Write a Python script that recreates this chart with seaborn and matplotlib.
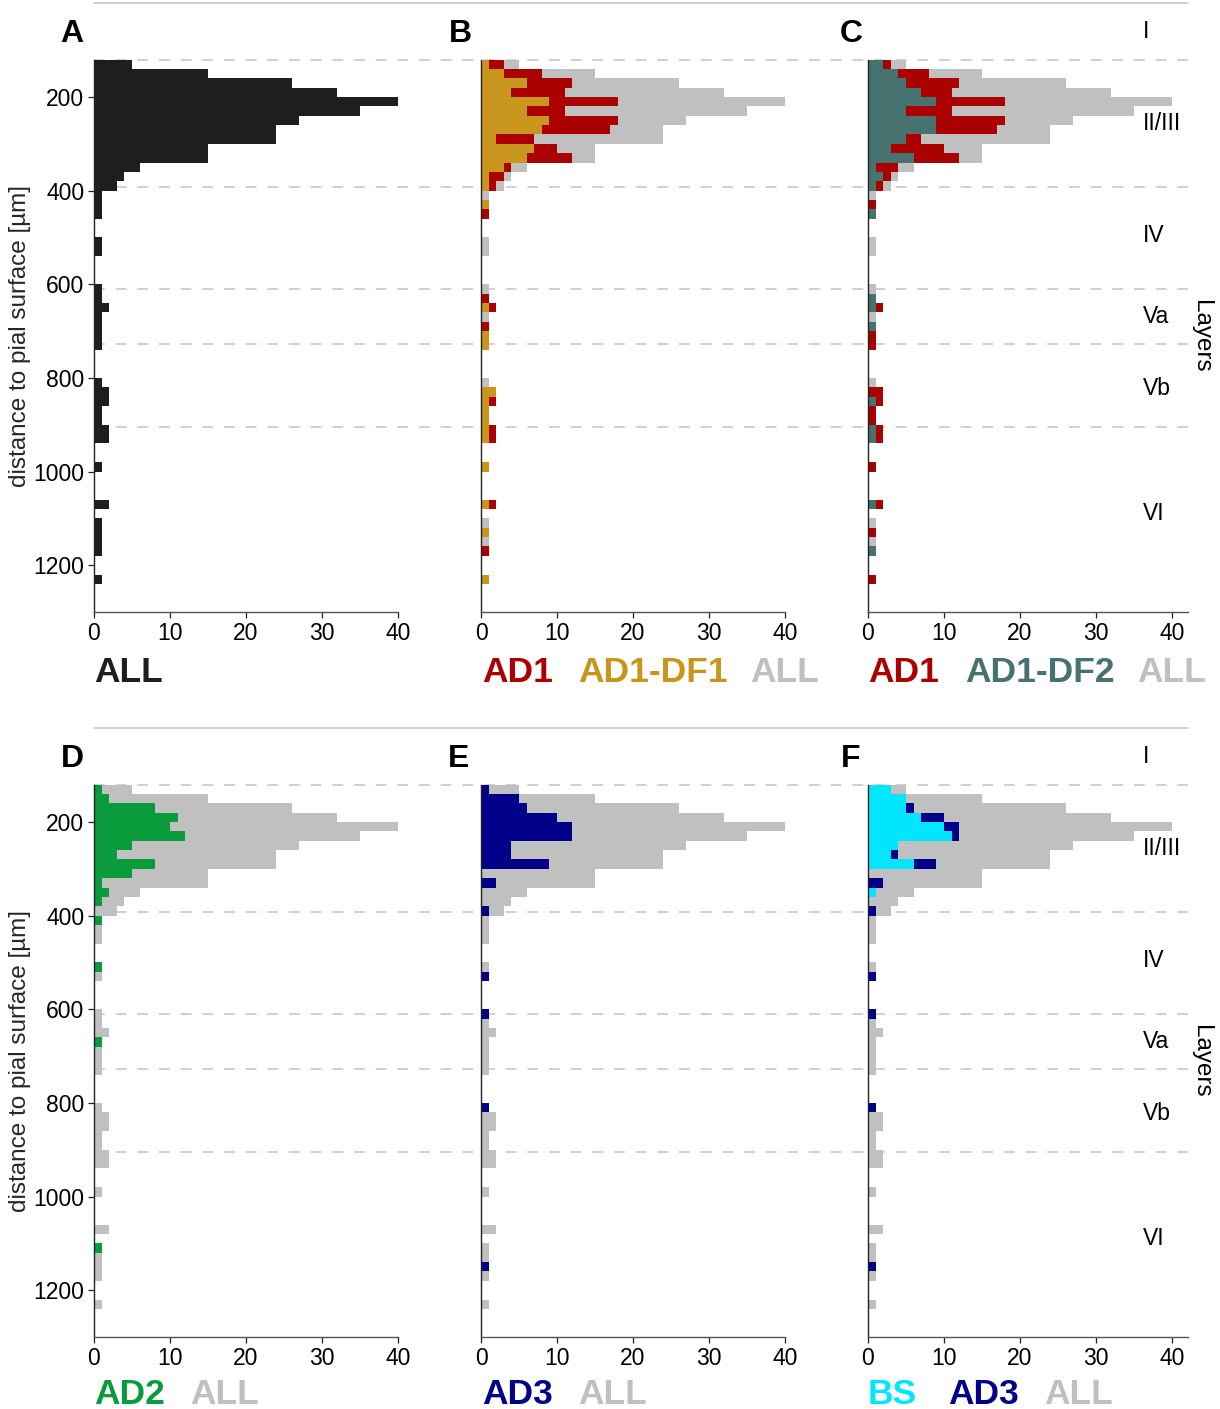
import numpy as np
import pandas as pd
import matplotlib
matplotlib.use("Agg")
import matplotlib.pyplot as plt
from matplotlib.lines import Line2D
from matplotlib.transforms import blended_transform_factory
import seaborn as sns

# ---------------------------------------------------------------
# Cell counts per 20 µm depth bin (bins from 120 µm to 1300 µm)
# ---------------------------------------------------------------
bin_edges = list(range(120, 1301, 20))
bin_centers = [e + 10 for e in bin_edges[:-1]]

counts_all = [5, 15, 26, 32, 40, 35, 27, 24, 24, 15,
              15, 6, 4, 3, 1, 1, 1, 0, 0, 1,
              1, 0, 0, 0, 1, 1, 2, 1, 1, 1,
              1, 0, 0, 0, 1, 2, 2, 1, 1, 2,
              2, 0, 0, 1, 0, 0, 0, 2, 0, 1,
              1, 1, 1, 0, 0, 1, 0, 0, 0]

counts_ad1 = [3, 8, 12, 11, 18, 11, 18, 17, 7, 10,
              12, 4, 3, 2, 0, 1, 1, 0, 0, 0,
              0, 0, 0, 0, 0, 1, 2, 0, 1, 1,
              1, 0, 0, 0, 0, 2, 2, 1, 1, 2,
              2, 0, 0, 1, 0, 0, 0, 2, 0, 0,
              1, 0, 1, 0, 0, 1, 0, 0, 0]

counts_ad1_df1 = [1, 3, 6, 4, 9, 6, 9, 8, 2, 7,
                  6, 3, 1, 1, 0, 1, 0, 0, 0, 0,
                  0, 0, 0, 0, 0, 0, 1, 0, 0, 1,
                  1, 0, 0, 0, 0, 2, 1, 1, 1, 1,
                  1, 0, 0, 1, 0, 0, 0, 1, 0, 0,
                  1, 0, 0, 0, 0, 1, 0, 0, 0]

counts_ad1_df2 = [2, 4, 5, 7, 9, 5, 9, 9, 5, 3,
                  6, 1, 2, 1, 0, 0, 1, 0, 0, 0,
                  0, 0, 0, 0, 0, 1, 1, 0, 1, 0,
                  0, 0, 0, 0, 0, 0, 1, 0, 0, 1,
                  1, 0, 0, 0, 0, 0, 0, 1, 0, 0,
                  0, 0, 1, 0, 0, 0, 0, 0, 0]

counts_ad2 = [1, 2, 8, 11, 10, 12, 5, 3, 8, 5,
              1, 2, 1, 0, 1, 0, 0, 0, 0, 1,
              0, 0, 0, 0, 0, 0, 0, 1, 0, 0,
              0, 0, 0, 0, 0, 0, 0, 0, 0, 0,
              0, 0, 0, 0, 0, 0, 0, 0, 0, 1,
              0, 0, 0, 0, 0, 0, 0, 0, 0]

counts_ad3 = [1, 5, 6, 10, 12, 12, 4, 4, 9, 0,
              2, 0, 0, 1, 0, 0, 0, 0, 0, 0,
              1, 0, 0, 0, 1, 0, 0, 0, 0, 0,
              0, 0, 0, 0, 1, 0, 0, 0, 0, 0,
              0, 0, 0, 0, 0, 0, 0, 0, 0, 0,
              0, 1, 0, 0, 0, 0, 0, 0, 0]

counts_bs = [3, 5, 5, 7, 10, 11, 4, 3, 6, 0,
             0, 1, 0, 0, 0, 0, 0, 0, 0, 0,
             0, 0, 0, 0, 0, 0, 0, 0, 0, 0,
             0, 0, 0, 0, 0, 0, 0, 0, 0, 0,
             0, 0, 0, 0, 0, 0, 0, 0, 0, 0,
             0, 0, 0, 0, 0, 0, 0, 0, 0]

# cortical layers: boundaries (µm) and label depths
layer_boundaries = [121, 392, 611, 727, 905]
layer_names = ["I", "II/III", "IV", "Va", "Vb", "VI"]
layer_label_depths = [59, 256, 495, 668, 822, 1089]

x_ticks = [0, 10, 20, 30, 40]
y_ticks = [200, 400, 600, 800, 1000, 1200]

# colours
C_BLACK = "#1e1e1e"
C_GREY = "#c0c0c0"
C_RED = "#aa0000"
C_GOLD = "#c8961c"
C_TEAL = "#46736f"
C_GREEN = "#0a9c3c"
C_NAVY = "#000088"
C_CYAN = "#00e6ff"

sns.set_theme(style="ticks")
plt.rcParams["font.family"] = ["Liberation Sans", "DejaVu Sans"]
plt.rcParams["axes.linewidth"] = 1.0

W, H = 1220, 1409
fig = plt.figure(figsize=(W / 100, H / 100), dpi=100)


def px_axes(left, top, right, bottom):
    return fig.add_axes([left / W, 1 - bottom / H, (right - left) / W, (bottom - top) / H])


col_px = [(94, 398, 40.0), (481, 785, 40.0), (868, 1188, 42.1)]
row_px = [(3.4, 612.0), (728.4, 1337.0)]

panels = [
    [("A", [(counts_all, C_BLACK)], [("ALL", C_BLACK)]),
     ("B", [(counts_all, C_GREY), (counts_ad1, C_RED), (counts_ad1_df1, C_GOLD)],
      [("AD1", C_RED), ("AD1-DF1", C_GOLD), ("ALL", C_GREY)]),
     ("C", [(counts_all, C_GREY), (counts_ad1, C_RED), (counts_ad1_df2, C_TEAL)],
      [("AD1", C_RED), ("AD1-DF2", C_TEAL), ("ALL", C_GREY)])],
    [("D", [(counts_all, C_GREY), (counts_ad2, C_GREEN)],
      [("AD2", C_GREEN), ("ALL", C_GREY)]),
     ("E", [(counts_all, C_GREY), (counts_ad3, C_NAVY)],
      [("AD3", C_NAVY), ("ALL", C_GREY)]),
     ("F", [(counts_all, C_GREY), (counts_ad3, C_NAVY), (counts_bs, C_CYAN)],
      [("BS", C_CYAN), ("AD3", C_NAVY), ("ALL", C_GREY)])],
]

legend_x = [
    [[94], [482, 578, 750], [868, 965, 1137]],
    [[94, 190], [482, 578], [868, 948, 1044]],
]
legend_y = [672, 1394]
letter_pos = [[(72, 34), (460, 34), (851, 34)], [(72, 759), (459, 759), (851, 759)]]

for r, row in enumerate(panels):
    top, bottom = row_px[r]
    axes_row = []
    for c, (letter, series, legend) in enumerate(row):
        left, right, xmax = col_px[c]
        ax = px_axes(left, top, right, bottom)
        ax.set_facecolor("none")
        for counts, color in series:
            df = pd.DataFrame({"depth": bin_centers, "n": counts})
            sns.histplot(data=df, y="depth", weights="n", bins=bin_edges, color=color,
                         alpha=1, linewidth=0, ax=ax)
        ax.set_xlim(0, xmax)
        ax.set_ylim(1300, 0)
        ax.set_xticks(x_ticks)
        ax.set_yticks(y_ticks)
        ax.set_xlabel("")
        ax.set_ylabel("")
        for s in ("top", "right"):
            ax.spines[s].set_visible(False)
        ax.spines["left"].set_bounds(120, 1300)
        ax.spines["left"].set_color("#222222")
        ax.spines["bottom"].set_color("#555555")
        ax.tick_params(axis="both", direction="out", length=4, width=0.9,
                       color="#222222", labelsize=16.5, pad=3, labelcolor="black")
        if c == 0:
            ax.set_ylabel("distance to pial surface [µm]", fontsize=17.5)
            ax.yaxis.label.set_va("center")
            ax.yaxis.set_label_coords(-0.245, 1 - 711 / 1300)
        else:
            ax.tick_params(axis="y", left=False, labelleft=False)
        ax.grid(False)

        # panel letter
        lx, ly = letter_pos[r][c]
        fig.text(lx / W, 1 - ly / H, letter, fontsize=23, fontweight="bold",
                 ha="center", va="center", color="black")
        # coloured series names below the panel
        for (name, color), x in zip(legend, legend_x[r][c]):
            fig.text(x / W, 1 - legend_y[r] / H, name, fontsize=25.5, fontweight="bold",
                     ha="left", va="center", color=color)
        axes_row.append(ax)

    # layer labels on the right-hand panel
    axc = axes_row[-1]
    for name, d in zip(layer_names, layer_label_depths):
        axc.text(36.2, d, name, fontsize=16.5, ha="left", va="center", color="black")
    axc.text(1201 / W, 1 - (336 + 725 * r) / H, "Layers", transform=fig.transFigure,
             rotation=270, fontsize=17.5, ha="center", va="center", color="black")

    # layer boundaries running across the row
    trans = blended_transform_factory(fig.transFigure, axes_row[0].transData)
    fig.add_artist(Line2D([94 / W, 1188 / W], [0, 0], transform=trans,
                          color="#c8c8c8", lw=1.2, zorder=-1))
    for d in layer_boundaries:
        fig.add_artist(Line2D([94 / W, 1188 / W], [d, d], transform=trans,
                              color="#c8c8c8", lw=1.2, dashes=(6.5, 6.5), zorder=-1))

fig.savefig("out.png", dpi=100)
